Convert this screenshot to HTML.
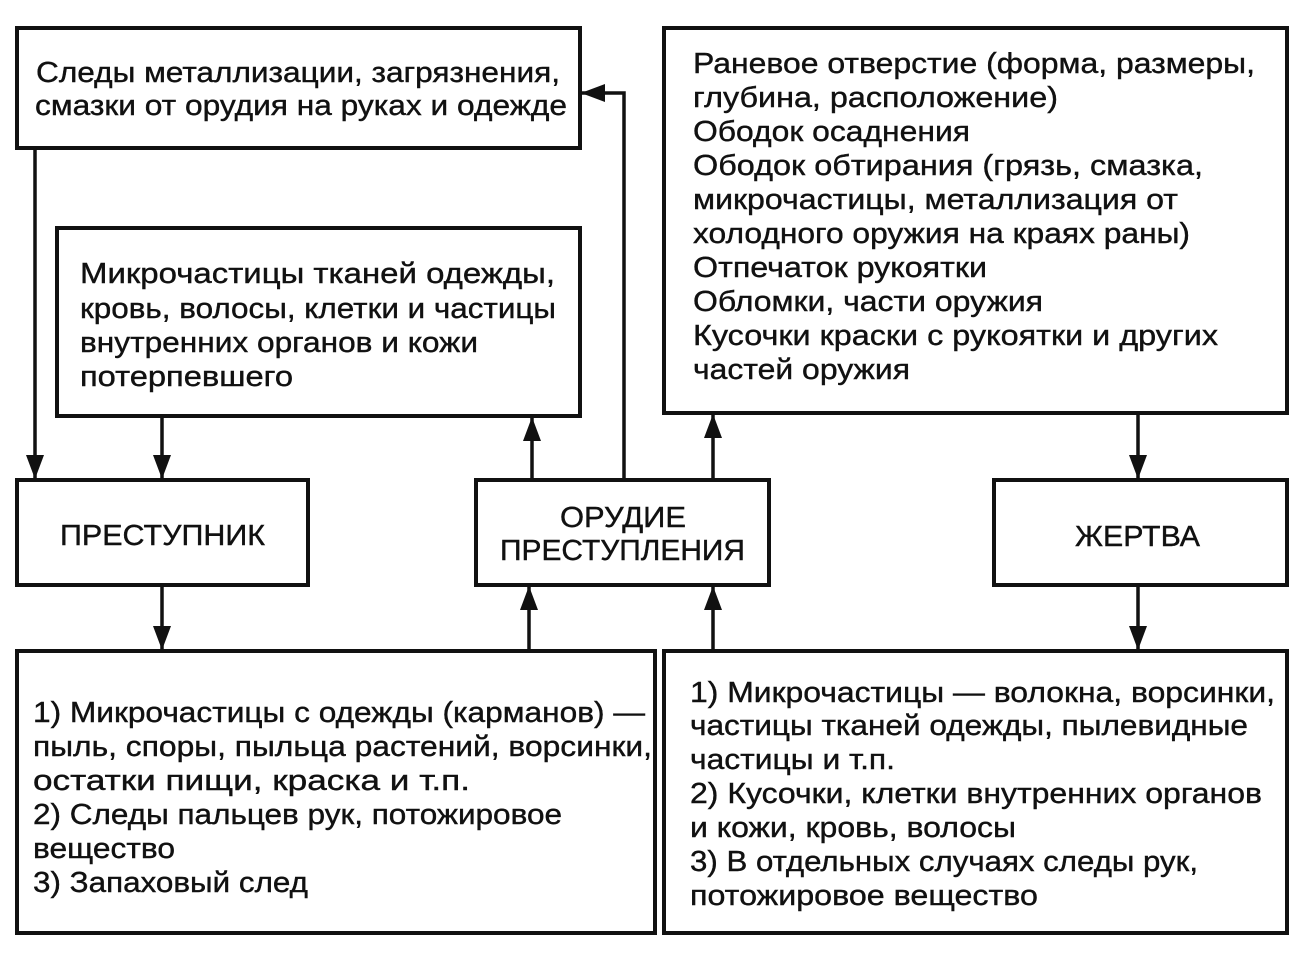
<!DOCTYPE html>
<html><head><meta charset="utf-8"><style>
html,body{margin:0;padding:0;background:#fff;}
svg{display:block}
text{font-family:"Liberation Sans",sans-serif;font-size:29px;fill:#111;stroke:#111;stroke-width:0.4;}
</style></head><body>
<svg width="1310" height="954" viewBox="0 0 1310 954" xmlns="http://www.w3.org/2000/svg">
<defs>
<marker id="a" markerWidth="24" markerHeight="18" refX="23" refY="9" orient="auto" markerUnits="userSpaceOnUse" viewBox="0 0 24 18"><path d="M0,0 L24,9 L0,18 z" fill="#111"/></marker>
</defs>
<g fill="none" stroke="#111" stroke-width="4">
<rect x="17" y="28" width="563" height="120"/>
<rect x="57" y="228" width="523" height="188"/>
<rect x="664" y="28" width="623" height="385"/>
<rect x="17" y="480" width="291" height="105"/>
<rect x="476" y="480" width="293" height="105"/>
<rect x="994" y="480" width="293" height="105"/>
<rect x="17" y="651" width="638" height="282"/>
<rect x="664" y="651" width="623" height="282"/>
</g>
<g stroke="#111" stroke-width="3.5" fill="none">
<path d="M35,148 V478" marker-end="url(#a)"/>
<path d="M162,416 V478" marker-end="url(#a)"/>
<path d="M532,480 V418" marker-end="url(#a)"/>
<path d="M624,480 V93 H582" marker-end="url(#a)"/>
<path d="M713,480 V415" marker-end="url(#a)"/>
<path d="M1138,413 V478" marker-end="url(#a)"/>
<path d="M162,585 V649" marker-end="url(#a)"/>
<path d="M529,651 V587" marker-end="url(#a)"/>
<path d="M713,651 V587" marker-end="url(#a)"/>
<path d="M1138,585 V649" marker-end="url(#a)"/>
</g>
<text x="36" y="82" textLength="524" lengthAdjust="spacingAndGlyphs">Следы металлизации, загрязнения,</text>
<text x="35" y="115" textLength="532" lengthAdjust="spacingAndGlyphs">смазки от орудия на руках и одежде</text>
<text x="80" y="283" textLength="475" lengthAdjust="spacingAndGlyphs">Микрочастицы тканей одежды,</text>
<text x="80" y="318" textLength="476" lengthAdjust="spacingAndGlyphs">кровь, волосы, клетки и частицы</text>
<text x="80" y="352" textLength="398" lengthAdjust="spacingAndGlyphs">внутренних органов и кожи</text>
<text x="80" y="386" textLength="213" lengthAdjust="spacingAndGlyphs">потерпевшего</text>
<text x="693" y="73" textLength="562" lengthAdjust="spacingAndGlyphs">Раневое отверстие (форма, размеры,</text>
<text x="693" y="107" textLength="365" lengthAdjust="spacingAndGlyphs">глубина, расположение)</text>
<text x="693" y="141" textLength="277" lengthAdjust="spacingAndGlyphs">Ободок осаднения</text>
<text x="693" y="175" textLength="510" lengthAdjust="spacingAndGlyphs">Ободок обтирания (грязь, смазка,</text>
<text x="693" y="209" textLength="485" lengthAdjust="spacingAndGlyphs">микрочастицы, металлизация от</text>
<text x="693" y="243" textLength="497" lengthAdjust="spacingAndGlyphs">холодного оружия на краях раны)</text>
<text x="693" y="277" textLength="294" lengthAdjust="spacingAndGlyphs">Отпечаток рукоятки</text>
<text x="693" y="311" textLength="350" lengthAdjust="spacingAndGlyphs">Обломки, части оружия</text>
<text x="693" y="345" textLength="525" lengthAdjust="spacingAndGlyphs">Кусочки краски с рукоятки и других</text>
<text x="693" y="379" textLength="217" lengthAdjust="spacingAndGlyphs">частей оружия</text>
<text x="60" y="545" textLength="205" lengthAdjust="spacingAndGlyphs">ПРЕСТУПНИК</text>
<text x="560" y="527" textLength="126" lengthAdjust="spacingAndGlyphs">ОРУДИЕ</text>
<text x="500" y="560" textLength="245" lengthAdjust="spacingAndGlyphs">ПРЕСТУПЛЕНИЯ</text>
<text x="1075" y="546" textLength="125" lengthAdjust="spacingAndGlyphs">ЖЕРТВА</text>
<text x="33" y="722" textLength="612" lengthAdjust="spacingAndGlyphs">1) Микрочастицы с одежды (карманов) —</text>
<text x="33" y="756" textLength="619" lengthAdjust="spacingAndGlyphs">пыль, споры, пыльца растений, ворсинки,</text>
<text x="33" y="790" textLength="437" lengthAdjust="spacingAndGlyphs">остатки пищи, краска и т.п.</text>
<text x="33" y="824" textLength="529" lengthAdjust="spacingAndGlyphs">2) Следы пальцев рук, потожировое</text>
<text x="33" y="858" textLength="142" lengthAdjust="spacingAndGlyphs">вещество</text>
<text x="33" y="892" textLength="275" lengthAdjust="spacingAndGlyphs">3) Запаховый след</text>
<text x="690" y="702" textLength="585" lengthAdjust="spacingAndGlyphs">1) Микрочастицы — волокна, ворсинки,</text>
<text x="690" y="735" textLength="558" lengthAdjust="spacingAndGlyphs">частицы тканей одежды, пылевидные</text>
<text x="690" y="769" textLength="205" lengthAdjust="spacingAndGlyphs">частицы и т.п.</text>
<text x="690" y="803" textLength="572" lengthAdjust="spacingAndGlyphs">2) Кусочки, клетки внутренних органов</text>
<text x="690" y="837" textLength="326" lengthAdjust="spacingAndGlyphs">и кожи, кровь, волосы</text>
<text x="690" y="871" textLength="508" lengthAdjust="spacingAndGlyphs">3) В отдельных случаях следы рук,</text>
<text x="690" y="905" textLength="348" lengthAdjust="spacingAndGlyphs">потожировое вещество</text>
</svg>
</body></html>
